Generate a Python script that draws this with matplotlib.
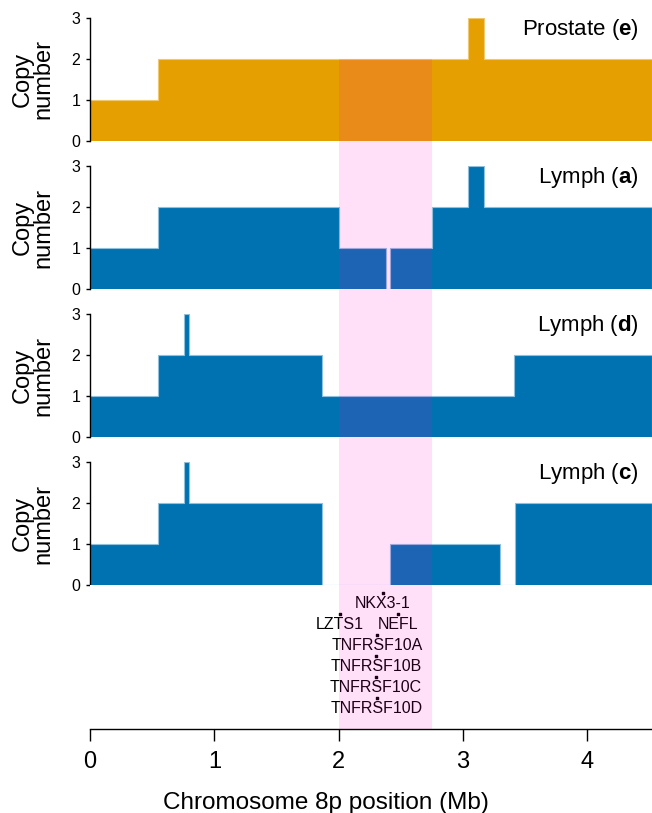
import numpy as np
import matplotlib
matplotlib.use("Agg")
import matplotlib.pyplot as plt
from matplotlib.patches import Rectangle
from matplotlib.transforms import blended_transform_factory

plt.rcParams['font.family'] = ['Liberation Sans', 'DejaVu Sans']
plt.rcParams['mathtext.fontset'] = 'custom'
plt.rcParams['mathtext.rm'] = 'Liberation Sans'
plt.rcParams['mathtext.bf'] = 'Liberation Sans:bold'

# copy-number segments (Mb breakpoints and copy number per segment)
x_max = 4.52
samples = ["Prostate", "Lymph", "Lymph", "Lymph"]
sample_ids = ["e", "a", "d", "c"]
sample_colors = ["#E69F00", "#0072B2", "#0072B2", "#0072B2"]
sample_edges = ["#f0c870", "#8fc0de", "#8fc0de", "#8fc0de"]

edges_e = [0, 0.55, 3.04, 3.17, x_max]
copies_e = [1, 2, 3, 2]
edges_a = [0, 0.55, 2.0, 2.38, 2.41, 2.75, 3.04, 3.17, x_max]
copies_a = [1, 2, 1, 0, 1, 2, 3, 2]
edges_d = [0, 0.55, 0.76, 0.80, 1.865, 3.41, x_max]
copies_d = [1, 2, 3, 2, 1, 2]
edges_c = [0, 0.55, 0.76, 0.80, 1.865, 2.415, 3.30, 3.415, x_max]
copies_c = [1, 2, 3, 2, 0, 1, 0, 2]

all_edges = [edges_e, edges_a, edges_d, edges_c]
all_copies = [copies_e, copies_a, copies_d, copies_c]

# highlighted region
region_start = 2.0
region_end = 2.75

# genes in the region
gene_names = ["NKX3-1", "LZTS1", "NEFL", "TNFRSF10A", "TNFRSF10B", "TNFRSF10C", "TNFRSF10D"]
gene_pos = [2.356, 2.01, 2.48, 2.31, 2.30, 2.30, 2.307]
gene_row = [0, 1, 1, 2, 3, 4, 5]

W, H = 652, 813
fig = plt.figure(figsize=(W / 100, H / 100), dpi=100)

left = 90 / W
width = (W - 90) / W
panel_tops = [18, 166, 314, 462]
panel_h = 123

axes = []
for i, top in enumerate(panel_tops):
    ax = fig.add_axes([left, 1 - (top + panel_h) / H, width, panel_h / H])
    ax.stairs(all_copies[i], all_edges[i], fill=True, baseline=0,
              facecolor=sample_colors[i], edgecolor=sample_edges[i], linewidth=0.8)
    ax.set_xlim(0, x_max)
    ax.set_ylim(0, 3)
    ax.set_yticks([0, 1, 2, 3])
    ax.tick_params(axis='y', labelsize=11.5, length=3, width=1, pad=4)
    ax.set_xticks([])
    for s in ['top', 'right', 'bottom']:
        ax.spines[s].set_visible(False)
    ax.spines['left'].set_linewidth(1)
    ax.text(-0.101, 0.5, "Copy\nnumber", rotation=90, ha='center', va='center',
            fontsize=17, linespacing=0.9, transform=ax.transAxes)
    ax.text(0.977, 0.91, samples[i] + " (" + r"$\mathbf{" + sample_ids[i] + r"}$" + ")",
            ha='right', va='center', fontsize=16, transform=ax.transAxes)
    axes.append(ax)

# gene panel with the x axis
gax = fig.add_axes([left, 1 - 729 / H, width, (729 - 585) / H])
gax.set_xlim(0, x_max)
gax.set_ylim(6.48, -0.38)
gax.scatter(gene_pos, gene_row, marker='s', s=4, color='black', zorder=3)
for name, x, r in zip(gene_names, gene_pos, gene_row):
    gax.annotate(name, (x, r), xytext=(0, -2.5), textcoords='offset points',
                 ha='center', va='top', fontsize=11.5, zorder=3)
gax.set_yticks([])
for s in ['top', 'right', 'left']:
    gax.spines[s].set_visible(False)
gax.spines['bottom'].set_linewidth(1)
gax.set_xticks([0, 1, 2, 3, 4])
gax.tick_params(axis='x', labelsize=17, length=8.6, width=1, pad=7)
gax.set_xlabel("Chromosome 8p position (Mb)", fontsize=17.5, labelpad=14)
gax.xaxis.label.set_x((326 - 90) / (W - 90))

# pink highlight spanning all panels
p0 = axes[0].get_position()
top_y = p0.y0 + p0.height * (2 / 3)
bot_y = gax.get_position().y0
trans = blended_transform_factory(gax.transData, fig.transFigure)
fig.patches.append(Rectangle((region_start, bot_y), region_end - region_start, top_y - bot_y,
                             transform=trans, facecolor='#ff00cc', alpha=0.12,
                             edgecolor='none', zorder=5))

fig.savefig("out.png", dpi=100)
